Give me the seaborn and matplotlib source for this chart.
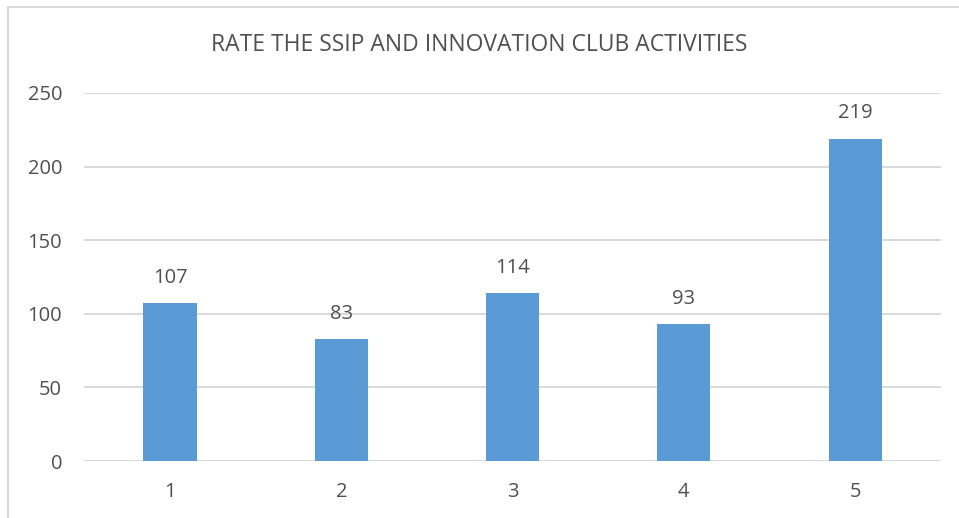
import pandas as pd
import seaborn as sns
import matplotlib.pyplot as plt
from matplotlib.patches import Rectangle

# data
ratings = ["1", "2", "3", "4", "5"]
counts = [107, 83, 114, 93, 219]
y_ticks = [0, 50, 100, 150, 200, 250]

df = pd.DataFrame({"rating": ratings, "count": counts})

sns.set_theme(style="white")
plt.rcParams['font.family'] = ['Open Sans', 'DejaVu Sans']
txt = "#505050"
grid_c = "#D9D9D9"
bar_c = "#5B9BD5"

fig = plt.figure(figsize=(9.59, 5.18), dpi=100)
ax = fig.add_axes([0.088, 0.110, 0.893, 0.7105])

sns.barplot(data=df, x="rating", y="count", color=bar_c, width=0.31,
            saturation=1, linewidth=0, ax=ax, zorder=3)

ax.set_ylim(0, 250)
ax.set_yticks(y_ticks)
ax.set_xlim(-0.5, len(ratings) - 0.5)
ax.set_xlabel("")
ax.set_ylabel("")
for v in y_ticks:
    ax.axhline(v, color=grid_c, lw=1.4, zorder=1)
for s in ax.spines.values():
    s.set_visible(False)
ax.tick_params(axis="both", length=0, colors=txt, labelsize=14.5)
ax.tick_params(axis="y", pad=16)
ax.tick_params(axis="x", pad=15)

for i, v in enumerate(counts):
    ax.annotate(str(v), (i, v), xytext=(0, 11), textcoords="offset points",
                ha="center", va="bottom", color=txt, fontsize=14.5)

fig.text(0.5, 0.913, "RATE THE SSIP AND INNOVATION CLUB ACTIVITIES",
         ha="center", va="center", color=txt, fontsize=16.5)

# outer chart border
fig.patches.append(Rectangle((8 / 959, -0.1), 1.2, 1 - 7 / 518 + 0.1,
                             transform=fig.transFigure, fill=False,
                             edgecolor=grid_c, lw=1.4))

fig.savefig("out.png", dpi=100, facecolor="white")
